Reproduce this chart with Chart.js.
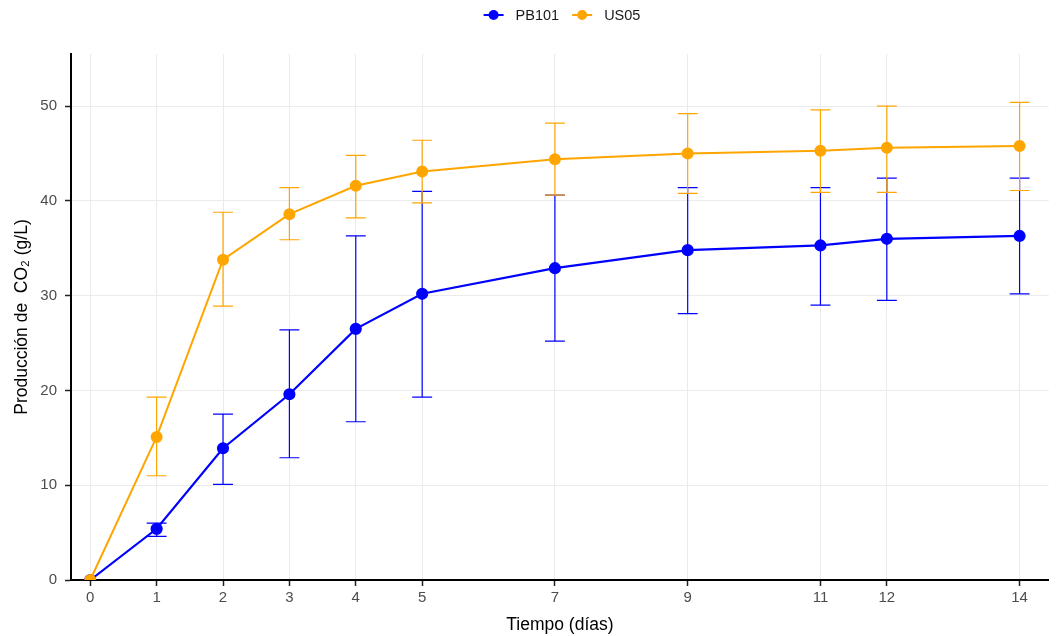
<!DOCTYPE html>
<html>
<head>
<meta charset="utf-8">
<script src="https://cdn.jsdelivr.net/npm/chart.js@4"></script>
<style>
  body { margin: 0; background: #fff; }
  #wrap { width: 1056px; height: 636px; }
</style>
</head>
<body>
<div id="wrap"><canvas id="co2Chart"></canvas></div>
<script>
// Días de fermentación
const days = [0, 1, 2, 3, 4, 5, 7, 9, 11, 12, 14];
const xTicks = [0, 1, 2, 3, 4, 5, 7, 9, 11, 12, 14];
const yTicks = [0, 10, 20, 30, 40, 50];

// PB101: media y límites de la barra de error
const pb101 = [0, 5.4, 13.9, 19.6, 26.5, 30.2, 32.9, 34.8, 35.3, 36.0, 36.3];
const pb101Hi = [0, 6.0, 17.5, 26.4, 36.3, 41.0, 40.6, 41.4, 41.4, 42.4, 42.4];
const pb101Lo = [0, 4.6, 10.1, 12.9, 16.7, 19.3, 25.2, 28.1, 29.0, 29.5, 30.2];

// US05
const us05 = [0, 15.1, 33.8, 38.6, 41.6, 43.1, 44.4, 45.0, 45.3, 45.6, 45.8];
const us05Hi = [0, 19.3, 38.8, 41.4, 44.8, 46.4, 48.2, 49.2, 49.6, 50.0, 50.4];
const us05Lo = [0, 11.0, 28.9, 35.9, 38.2, 39.8, 40.6, 40.8, 40.9, 40.9, 41.1];

const BLUE = '#0000FF';
const ORANGE = '#FFA500';
const FONT = "'Liberation Sans', Arial, sans-serif";

const toPoints = (vals) => days.map((d, i) => ({ x: d, y: vals[i] }));

// barras de error dibujadas debajo de las líneas
const errorBars = {
    id: 'errorBars',
    beforeDatasetsDraw(chart) {
        const { ctx, scales: { x, y } } = chart;
        const half = x.getPixelForValue(0.15) - x.getPixelForValue(0);
        ctx.save();
        chart.data.datasets.forEach(ds => {
            ctx.strokeStyle = ds.borderColor;
            ctx.lineWidth = 1.2;
            ds.hi.forEach((hi, i) => {
                const lo = ds.lo[i];
                if (hi === lo) return;
                const cx = x.getPixelForValue(days[i]);
                const yHi = y.getPixelForValue(hi);
                const yLo = y.getPixelForValue(lo);
                ctx.beginPath();
                ctx.moveTo(cx, yHi); ctx.lineTo(cx, yLo);
                ctx.moveTo(cx - half, yHi); ctx.lineTo(cx + half, yHi);
                ctx.moveTo(cx - half, yLo); ctx.lineTo(cx + half, yLo);
                ctx.stroke();
            });
        });
        ctx.restore();
    }
};

// leyenda arriba, estilo ggplot (línea + punto)
const topLegend = {
    id: 'topLegend',
    afterDraw(chart) {
        const ctx = chart.ctx;
        ctx.save();
        ctx.font = '14.5px ' + FONT;
        const items = chart.data.datasets.map(ds => ({ label: ds.label, color: ds.borderColor, w: ctx.measureText(ds.label).width }));
        const keyW = 20, gapKey = 12, gapItem = 13;
        const total = items.reduce((s, it) => s + keyW + gapKey + it.w, 0) + gapItem * (items.length - 1);
        let x0 = 562 - total / 2;
        const cy = 15;
        items.forEach(it => {
            ctx.strokeStyle = it.color;
            ctx.fillStyle = it.color;
            ctx.lineWidth = 2;
            ctx.beginPath();
            ctx.moveTo(x0, cy); ctx.lineTo(x0 + keyW, cy);
            ctx.stroke();
            ctx.beginPath();
            ctx.arc(x0 + keyW / 2, cy, 5, 0, Math.PI * 2);
            ctx.fill();
            ctx.fillStyle = '#1A1A1A';
            ctx.textBaseline = 'middle';
            ctx.fillText(it.label, x0 + keyW + gapKey, cy + 1);
            x0 += keyW + gapKey + it.w + gapItem;
        });
        ctx.restore();
    }
};

new Chart(document.getElementById('co2Chart'), {
    type: 'line',
    data: {
        datasets: [
            {
                label: 'PB101',
                data: toPoints(pb101),
                hi: pb101Hi, lo: pb101Lo,
                borderColor: BLUE,
                backgroundColor: BLUE,
                borderWidth: 2.2,
                pointRadius: 5,
                pointHoverRadius: 5,
                tension: 0,
                clip: 0,
                order: 1
            },
            {
                label: 'US05',
                data: toPoints(us05),
                hi: us05Hi, lo: us05Lo,
                borderColor: ORANGE,
                backgroundColor: ORANGE,
                borderWidth: 2,
                pointRadius: 5,
                pointHoverRadius: 5,
                tension: 0,
                clip: 0,
                order: 0
            }
        ]
    },
    options: {
        responsive: true,
        maintainAspectRatio: false,
        animation: false,
        layout: { padding: { top: 54, right: 6, left: 0, bottom: 0 } },
        plugins: {
            legend: { display: false },
            tooltip: { enabled: false }
        },
        scales: {
            x: {
                type: 'linear',
                min: -0.29,
                max: 14.44,
                afterBuildTicks: (axis) => { axis.ticks = xTicks.map(v => ({ value: v })); },
                afterFit: (axis) => { axis.height = 56; },
                grid: { color: '#EBEBEB', lineWidth: 1, tickColor: '#222', tickLength: 6, tickWidth: 1.5 },
                border: { color: '#000', width: 2 },
                ticks: { color: '#4D4D4D', font: { family: FONT, size: 15 }, padding: 3, autoSkip: false, maxRotation: 0 },
                title: { display: true, text: 'Tiempo (días)', color: '#000', font: { family: FONT, size: 17.5 }, padding: { top: 0, bottom: 0 } }
            },
            y: {
                min: 0,
                max: 55.5,
                afterBuildTicks: (axis) => { axis.ticks = yTicks.map(v => ({ value: v })); },
                afterFit: (axis) => { axis.width = 71; },
                grid: { color: '#EBEBEB', lineWidth: 1, tickColor: '#222', tickLength: 6, tickWidth: 1.5 },
                border: { color: '#000', width: 2 },
                ticks: { color: '#4D4D4D', font: { family: FONT, size: 15 }, padding: 8 },
                title: { display: true, text: 'Producción de  CO\u2082 (g/L)', color: '#000', font: { family: FONT, size: 17.5 }, padding: { top: 12, bottom: 0 } }
            }
        }
    },
    plugins: [errorBars, topLegend]
});
</script>
</body>
</html>
